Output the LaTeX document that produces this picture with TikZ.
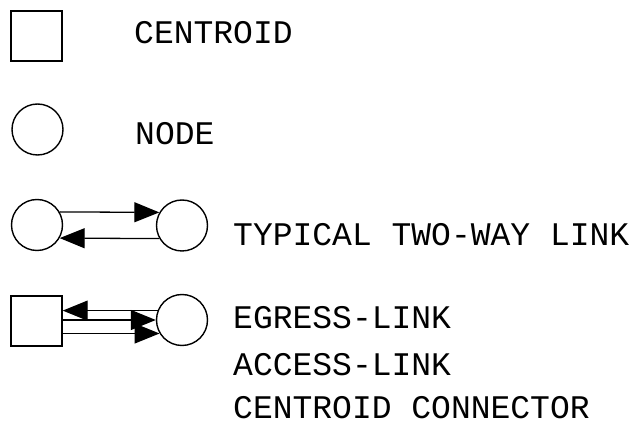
\documentclass[tikz,border=0pt]{standalone}
\usepackage{fontspec}
\setmonofont{Liberation Mono}
\usetikzlibrary{arrows.meta}
\begin{document}
\begin{tikzpicture}[x=1pt,y=-1pt,
  shapeline/.style={draw=black,line width=1.4pt},
  cent/.style={shapeline,rectangle,minimum width=51pt,minimum height=50pt,inner sep=0pt},
  nd/.style={shapeline,circle,minimum size=51pt,inner sep=0pt},
  link/.style={draw=black,line width=1.3pt,-{Triangle[length=25pt,width=20pt]}},
  lbl/.style={anchor=base west,inner sep=0pt,font=\fontsize{33}{33}\selectfont\ttfamily}]
\useasboundingbox (0,0) rectangle (640,427);
% legend symbols
\node[cent] (S1) at (36.5,36) {};
\node[nd] (N2) at (37.5,129.5) {};
\node[nd] (L3) at (37,225) {};
\node[nd] (R3) at (182,225.5) {};
\node[cent] (S4) at (36.5,321) {};
\node[nd] (C4) at (182,320) {};
% two-way link
\draw[link] (L3.30) -- (R3.150);
\draw[link] (R3.210) -- (L3.330);
% egress / access / connector
\draw[link] (C4.159) -- (S4.east |- C4.159);
\draw[link] (S4.east |- C4.west) -- (C4.west);
\draw[link] (S4.east |- C4.211) -- (C4.211);
% labels
\node[lbl] (t1) at (134,44) {CENTROID};
\node[lbl] (t2) at (135,145) {NODE};
\node[lbl] (t3) at (233,246) {TYPICAL TWO-WAY LINK};
\node[lbl] (t4) at (233,329) {EGRESS-LINK};
\node[lbl] (t5) at (233,376) {ACCESS-LINK};
\node[lbl] (t6) at (233,419) {CENTROID CONNECTOR};
\end{tikzpicture}
\end{document}
